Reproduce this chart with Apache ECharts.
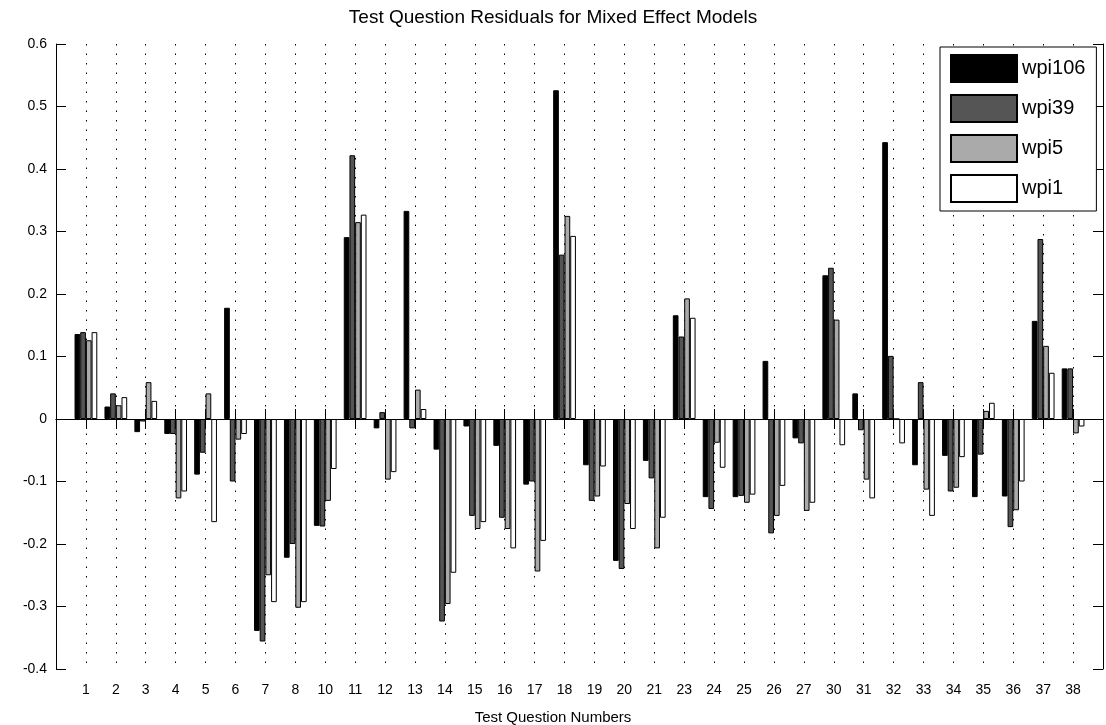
<!DOCTYPE html>
<html>
<head>
<meta charset="utf-8">
<title>Test Question Residuals</title>
<script src="https://cdn.jsdelivr.net/npm/echarts@6/dist/echarts.min.js"></script>
<style>
  html, body { margin: 0; padding: 0; background: #fff; }
  #chart { width: 1106px; height: 725px; }
</style>
</head>
<body>
<div id="chart"></div>
<script>
// question numbers on the x axis (9, 22, 28, 29 are not in the test)
const questions = ['1','2','3','4','5','6','7','8','10','11','12','13','14','15','16','17','18','19','20','21','23','24','25','26','27','30','31','32','33','34','35','36','37','38'];

// residuals per model
const wpi106 = [0.136, 0.020, -0.021, -0.024, -0.089, 0.178, -0.339, -0.222, -0.171, 0.291, -0.015, 0.333, -0.049, -0.012, -0.043, -0.105, 0.526, -0.074, -0.227, -0.067, 0.166, -0.125, -0.125, 0.093, -0.031, 0.230, 0.041, 0.443, -0.074, -0.059, -0.125, -0.124, 0.157, 0.081];
const wpi39  = [0.139, 0.041, -0.004, -0.024, -0.054, -0.100, -0.356, -0.200, -0.172, 0.422, 0.011, -0.015, -0.324, -0.155, -0.158, -0.100, 0.263, -0.131, -0.240, -0.095, 0.132, -0.144, -0.123, -0.183, -0.039, 0.242, -0.018, 0.101, 0.059, -0.116, -0.057, -0.173, 0.288, 0.081];
const wpi5   = [0.126, 0.022, 0.059, -0.127, 0.041, -0.033, -0.250, -0.302, -0.131, 0.315, -0.097, 0.047, -0.296, -0.176, -0.176, -0.244, 0.325, -0.124, -0.136, -0.207, 0.193, -0.038, -0.134, -0.155, -0.147, 0.159, -0.097, 0.000, -0.113, -0.110, 0.013, -0.146, 0.117, -0.023];
const wpi1   = [0.139, 0.035, 0.029, -0.116, -0.165, -0.024, -0.293, -0.293, -0.080, 0.327, -0.085, 0.016, -0.246, -0.165, -0.207, -0.195, 0.293, -0.076, -0.176, -0.158, 0.162, -0.078, -0.121, -0.107, -0.134, -0.042, -0.127, -0.039, -0.155, -0.061, 0.026, -0.100, 0.074, -0.012];

const seriesNames = ['wpi106', 'wpi39', 'wpi5', 'wpi1'];
const seriesColors = ['#000000', '#555555', '#aaaaaa', '#ffffff'];
const yTicks = [-0.4, -0.3, -0.2, -0.1, 0, 0.1, 0.2, 0.3, 0.4, 0.5, 0.6];

const FONT = '"Liberation Sans", Arial, sans-serif';

// matlab puts one empty slot at each end (xlim 0..n+1)
const xData = [''].concat(questions, ['']);
function pad(arr) { return [null].concat(arr, [null]); }

const chart = echarts.init(document.getElementById('chart'), null, { renderer: 'canvas' });

const allData = [wpi106, wpi39, wpi5, wpi1];
const series = seriesNames.map(function (name, i) {
    return {
        name: name,
        type: 'bar',
        data: pad(allData[i]),
        barGap: '0%',
        barCategoryGap: '24%',
        itemStyle: { color: seriesColors[i], borderColor: '#000', borderWidth: 1 },
        emphasis: { disabled: true },
        animation: false
    };
});

const option = {
    animation: false,
    backgroundColor: '#fff',
    title: [{
        text: 'Test Question Residuals for Mixed Effect Models',
        left: 'center',
        top: 3,
        textStyle: { fontFamily: FONT, fontSize: 19, fontWeight: 'normal', color: '#000' }
    }, {
        // x label, centred on the figure like in the original
        text: 'Test Question Numbers',
        left: 'center',
        top: 705,
        textStyle: { fontFamily: FONT, fontSize: 15, fontWeight: 'normal', color: '#000' }
    }],
    legend: {
        orient: 'vertical',
        left: 940,
        top: 47,
        padding: [7, 11, 8, 10],
        itemWidth: 66,
        itemHeight: 27,
        itemGap: 11,
        icon: 'rect',
        backgroundColor: '#fff',
        borderColor: '#000',
        borderWidth: 1,
        textStyle: { fontFamily: FONT, fontSize: 20, color: '#000', padding: [0, 0, 5, 0] },
        data: seriesNames
    },
    grid: {
        left: 56, right: 1, top: 44, bottom: 56,
        containLabel: false
    },
    xAxis: [{
        type: 'category',
        data: xData,
        boundaryGap: false,
        position: 'bottom',
        axisLine: { show: true, lineStyle: { color: '#000', width: 1 } },
        axisTick: { show: true, inside: true, length: 10, interval: 0, lineStyle: { color: '#000' } },
        axisLabel: { interval: 0, margin: 14, fontFamily: FONT, fontSize: 14, color: '#000' },
        splitLine: { show: true, interval: 0, lineStyle: { color: '#000', type: [1.5, 8], width: 1 } }
    }, {
        type: 'category',
        data: xData,
        boundaryGap: false,
        position: 'top',
        axisLine: { show: true, lineStyle: { color: '#000', width: 1 } },
        axisTick: { show: true, inside: true, length: 10, interval: 0, lineStyle: { color: '#000' } },
        axisLabel: { show: false },
        splitLine: { show: false }
    }],
    yAxis: [{
        type: 'value',
        min: yTicks[0],
        max: yTicks[yTicks.length - 1],
        interval: 0.1,
        position: 'left',
        axisLine: { show: true, lineStyle: { color: '#000', width: 1 } },
        axisTick: { show: true, inside: true, length: 10, lineStyle: { color: '#000' } },
        axisLabel: {
            margin: 9, fontFamily: FONT, fontSize: 14, color: '#000',
            formatter: function (v) { return String(Math.round(v * 10) / 10); }
        },
        splitLine: { show: false }
    }, {
        type: 'value',
        min: yTicks[0],
        max: yTicks[yTicks.length - 1],
        interval: 0.1,
        position: 'right',
        axisLine: { show: true, lineStyle: { color: '#000', width: 1 } },
        axisTick: { show: true, inside: true, length: 10, lineStyle: { color: '#000' } },
        axisLabel: { show: false },
        splitLine: { show: false }
    }],
    series: series
};

chart.setOption(option);
</script>
</body>
</html>
